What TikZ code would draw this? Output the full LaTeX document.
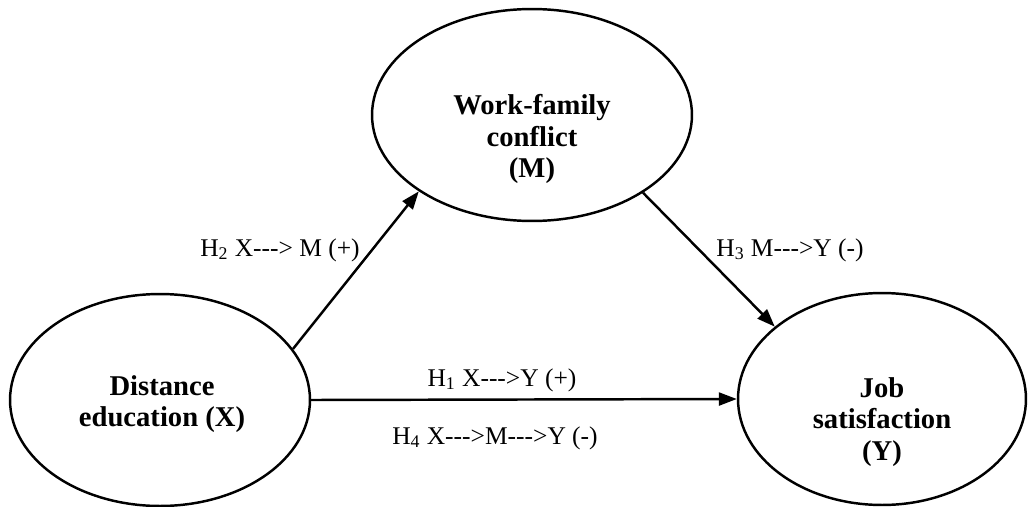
\documentclass[tikz,border=0pt]{standalone}
\usepackage{fontspec}
\setmainfont{Liberation Serif}
\usetikzlibrary{shapes.geometric}
\usetikzlibrary{arrows.meta}

\tikzset{
  construct/.style={ellipse, draw, line width=1.4pt, inner sep=0pt},
  title/.style={align=center, font=\fontsize{16.3}{18}\selectfont\bfseries, inner sep=0pt},
  path/.style={line width=1.4pt, -{Triangle[length=0.36cm, width=0.26cm]}},
  hyp/.style={font=\fontsize{14.5}{17}\selectfont, inner sep=0pt}
}

\begin{document}
\begin{tikzpicture}[x=0.02cm, y=-0.02cm]
            \useasboundingbox (0,0) rectangle (1028,507);
            % Constructs
            \node[construct, minimum width=6cm, minimum height=4.24cm] (X) at (160,400) {};
            \node[construct, minimum width=6.4cm, minimum height=4.24cm] (M) at (532,115) {};
            \node[construct, minimum width=5.76cm, minimum height=4.24cm] (Y) at (882,399) {};
            \node[title] (Xtext) at (162,404) {Distance\\education (X)};
            \node[title] (Mtext) at (532,139) {Work-family\\conflict\\(M)};
            \node[title] (Ytext) at (882,422) {Job\\satisfaction\\(Y)};

            % Paths
            \draw[path] (X.21) -- (M.214);
            \draw[path] (M.-35) -- (Y.146);
            \draw[path] (X.east) -- (Y.west);

            % Hypotheses
            \node[hyp] (h2) at (280,250) {H\textsubscript{2} X-{}-{}-> M (+)};
            \node[hyp] (h3) at (790,250) {H\textsubscript{3} M-{}-{}->Y (-)};
            \node[hyp] (h1) at (502,380) {H\textsubscript{1} X-{}-{}->Y (+)};
            \node[hyp] (h4) at (495,438) {H\textsubscript{4} X-{}-{}->M-{}-{}->Y (-)};
        \end{tikzpicture}
\end{document}
